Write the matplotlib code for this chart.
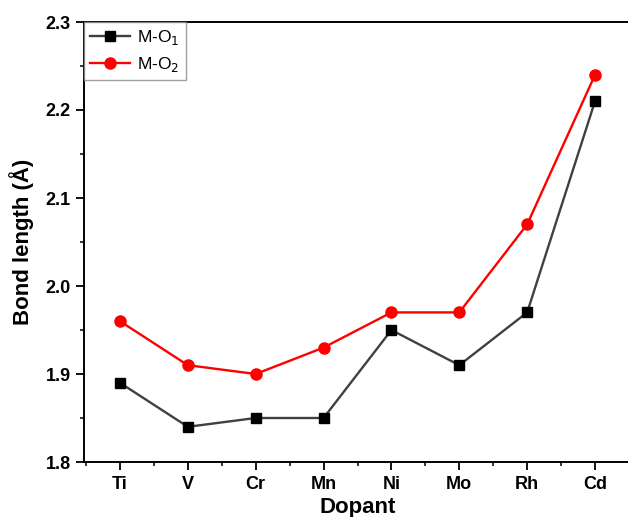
import matplotlib
matplotlib.use("Agg")
import matplotlib.pyplot as plt
from matplotlib.ticker import MultipleLocator

plt.rcParams['font.family'] = ['Liberation Sans', 'DejaVu Sans']

dopants = ["Ti", "V", "Cr", "Mn", "Ni", "Mo", "Rh", "Cd"]
m_o1 = [1.89, 1.84, 1.85, 1.85, 1.95, 1.91, 1.97, 2.21]
m_o2 = [1.96, 1.91, 1.90, 1.93, 1.97, 1.97, 2.07, 2.24]

fig = plt.figure(figsize=(6.28, 5.17), dpi=100)
ax = fig.add_axes([84/628, 1 - 462/517, (631 - 84)/628, (462 - 22)/517])

x = list(range(len(dopants)))
ax.plot(x, m_o1, color="#404040", lw=1.7, marker="s", ms=7, mfc="black", mec="black", label="M-O$_1$")
ax.plot(x, m_o2, color="red", lw=1.7, marker="o", ms=8, mfc="red", mec="red", label="M-O$_2$")

ax.set_xlim(-0.53, 7.53)
ax.set_ylim(1.8, 2.3)
ax.set_xticks(x)
ax.set_xticklabels(dopants, fontweight="bold", fontsize=13)
ax.xaxis.set_minor_locator(MultipleLocator(0.5))
ax.yaxis.set_major_locator(MultipleLocator(0.1))
ax.yaxis.set_minor_locator(MultipleLocator(0.05))
ax.set_yticklabels([f"{v:.1f}" for v in ax.get_yticks()], fontweight="bold", fontsize=13)
ax.tick_params(which="major", direction="out", length=6, width=1.3)
ax.tick_params(which="minor", direction="out", length=3, width=1.1)
ax.tick_params(axis="x", which="both", pad=4)
for s in ax.spines.values():
    s.set_linewidth(1.4)

ax.set_xlabel("Dopant", fontweight="bold", fontsize=16, labelpad=3)
ax.set_ylabel("Bond length (Å)", fontweight="bold", fontsize=16, labelpad=8)

leg = ax.legend(loc="upper left", fontsize=12.5, frameon=True, fancybox=False,
                borderaxespad=0, handlelength=2.3, borderpad=0.35, labelspacing=0.45,
                handletextpad=0.4)
leg.get_frame().set_edgecolor("#888888")
leg.get_frame().set_linewidth(1.0)

fig.savefig("out.png", dpi=100)
